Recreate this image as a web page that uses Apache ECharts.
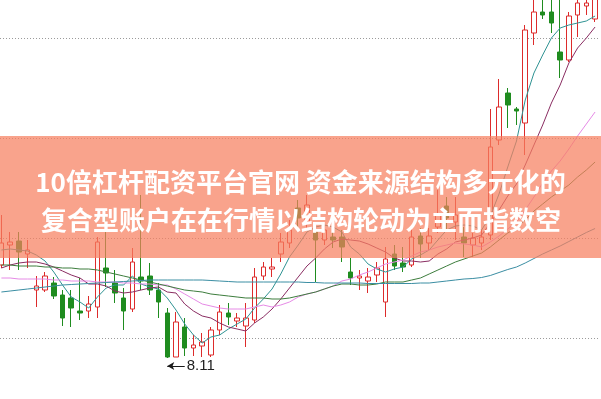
<!DOCTYPE html>
<html><head><meta charset="utf-8">
<script src="https://cdn.jsdelivr.net/npm/echarts@6/dist/echarts.min.js"></script>
<style>html,body{margin:0;padding:0;background:#fff}#c{width:601px;height:399px}</style>
</head><body><div id="c"></div>
<script>
// ---- data ----
const days = ['D01','D02','D03','D04','D05','D06','D07','D08','D09','D10','D11','D12','D13','D14','D15','D16','D17','D18','D19','D20','D21','D22','D23','D24','D25','D26','D27','D28','D29','D30','D31','D32','D33','D34','D35','D36','D37','D38','D39','D40','D41','D42','D43','D44','D45','D46','D47','D48','D49','D50','D51','D52','D53','D54','D55','D56','D57','D58','D59','D60','D61','D62','D63','D64','D65','D66','D67','D68','D69'];
const openP = [9.04,9.24,9.28,9.15,8.79,8.79,8.86,8.74,8.71,8.58,
  8.58,8.62,9.01,8.86,8.71,8.60,8.92,8.93,8.79,8.56,
  8.12,8.42,8.21,8.23,8.14,8.39,8.56,8.48,8.43,8.49,
  8.93,9.00,9.15,9.26,9.61,9.47,9.37,9.29,9.32,9.32,
  8.97,8.91,8.88,8.94,8.67,9.15,9.06,9.04,9.33,9.26,
  9.42,9.63,9.47,9.32,9.24,9.26,9.34,10.29,10.76,10.60,
  10.46,11.36,11.57,11.57,11.17,11.09,11.54,11.63,11.50];
const closeP = [9.26,9.27,9.17,9.19,8.83,8.93,8.73,8.51,8.61,8.56,
  8.65,9.27,8.96,8.76,8.58,9.07,8.88,8.79,8.67,8.12,
  8.47,8.21,8.24,8.27,8.39,8.57,8.52,8.51,8.51,8.92,
  9.02,9.02,9.27,9.39,9.51,9.64,9.29,9.39,9.29,9.22,
  8.91,8.93,8.92,9.01,9.10,9.03,9.02,9.32,9.25,9.33,
  9.54,9.51,9.54,9.26,9.31,9.32,10.22,10.62,10.64,10.58,
  11.39,11.57,11.54,11.46,11.09,11.53,11.66,11.66,11.72];
const lowP = [9.01,8.99,8.99,9.01,8.62,8.77,8.70,8.43,8.42,8.49,
  8.51,8.51,8.82,8.66,8.39,8.57,8.79,8.74,8.51,8.11,
  8.12,8.13,8.13,8.12,8.12,8.34,8.44,8.42,8.22,8.46,
  8.89,8.92,9.07,9.21,9.41,9.41,8.87,9.24,9.21,9.07,
  8.84,8.79,8.76,8.87,8.52,8.99,8.97,9.02,9.11,9.19,
  9.36,9.39,9.29,9.12,9.12,9.19,9.29,10.24,10.41,10.44,
  10.14,11.24,11.50,11.36,10.91,11.07,11.32,11.54,11.47];
const highP = [9.54,9.37,9.37,9.29,8.93,8.97,8.92,8.79,8.79,8.91,
  8.73,9.32,9.54,8.99,8.81,9.21,9.74,9.06,8.86,8.61,
  8.57,8.51,8.34,8.36,8.42,8.64,8.66,8.56,8.66,9.01,
  9.07,9.11,9.36,9.49,9.69,9.74,9.44,9.44,9.39,9.39,
  9.11,8.99,9.01,9.07,9.22,9.24,9.22,9.42,9.41,9.41,
  9.82,9.72,9.72,9.42,9.36,9.39,10.60,10.90,10.81,10.62,
  11.44,11.74,11.74,11.69,11.74,11.57,11.74,11.71,11.78];
const ma5 = [9.19,9.20,9.19,9.18,9.14,9.08,8.97,8.84,8.72,8.67,
  8.61,8.72,8.81,8.84,8.84,8.93,8.85,8.82,8.80,8.71,
  8.59,8.45,8.34,8.26,8.32,8.34,8.40,8.45,8.50,8.61,
  8.70,8.80,8.95,9.12,9.24,9.37,9.42,9.44,9.42,9.37,
  9.22,9.15,9.05,9.00,8.97,9.00,9.02,9.10,9.14,9.19,
  9.29,9.39,9.43,9.44,9.43,9.39,9.53,9.75,10.02,10.28,
  10.69,10.96,11.14,11.31,11.41,11.44,11.46,11.48,11.53];
const ma10 = [9.01,9.04,9.06,9.07,9.07,9.05,9.02,8.98,8.94,8.91,
  8.85,8.85,8.83,8.78,8.76,8.77,8.79,8.81,8.82,8.77,
  8.76,8.65,8.58,8.53,8.51,8.46,8.42,8.40,8.38,8.46,
  8.52,8.60,8.70,8.81,8.92,9.03,9.11,9.20,9.27,9.30,
  9.29,9.28,9.25,9.21,9.17,9.11,9.08,9.08,9.07,9.08,
  9.15,9.20,9.27,9.29,9.31,9.34,9.46,9.59,9.73,9.85,
  10.04,10.24,10.44,10.66,10.84,11.06,11.21,11.31,11.42];
const ma20 = [8.91,8.91,8.90,8.90,8.90,8.90,8.89,8.89,8.88,8.88,
  8.88,8.87,8.87,8.87,8.86,8.86,8.85,8.85,8.84,8.84,
  8.80,8.75,8.70,8.65,8.63,8.61,8.60,8.60,8.60,8.62,
  8.64,8.62,8.64,8.67,8.72,8.75,8.77,8.80,8.83,8.88,
  8.90,8.94,8.97,9.01,9.05,9.07,9.09,9.13,9.17,9.19,
  9.22,9.24,9.26,9.25,9.24,9.22,9.27,9.33,9.40,9.47,
  9.59,9.72,9.86,9.98,10.08,10.20,10.33,10.45,10.57];
const ma30 = [9.04,9.04,9.03,9.03,9.03,9.02,9.02,9.01,9.01,9.00,
  9.00,8.99,8.97,8.95,8.93,8.91,8.89,8.87,8.85,8.83,
  8.81,8.79,8.78,8.77,8.75,8.74,8.73,8.72,8.71,8.71,
  8.71,8.70,8.70,8.71,8.73,8.75,8.77,8.80,8.83,8.85,
  8.85,8.84,8.84,8.85,8.87,8.87,8.87,8.89,8.91,8.95,
  8.99,9.03,9.07,9.10,9.13,9.16,9.22,9.29,9.36,9.41,
  9.49,9.58,9.65,9.72,9.78,9.84,9.92,9.99,10.07];
const ma60 = [8.77,8.78,8.79,8.80,8.81,8.82,8.83,8.84,8.845,8.85,
  8.855,8.86,8.865,8.87,8.875,8.88,8.885,8.89,8.89,8.89,
  8.89,8.89,8.89,8.89,8.885,8.88,8.875,8.87,8.87,8.87,
  8.87,8.87,8.87,8.87,8.87,8.865,8.865,8.86,8.86,8.86,
  8.86,8.86,8.855,8.855,8.855,8.855,8.855,8.855,8.86,8.86,
  8.87,8.88,8.89,8.90,8.905,8.915,8.935,8.965,8.995,9.02,
  9.06,9.105,9.15,9.19,9.23,9.275,9.32,9.365,9.405];
const lowLabel = '8.11';
const lowIndex = 19;
const titleLines = ['10倍杠杆配资平台官网 资金来源结构多元化的', '复合型账户在在行情以结构轮动为主而指数空'];

// ---- chart ----
const candles = openP.map((o, i) => [o, closeP[i], lowP[i], highP[i]]);
const RED = '#dd2b2b', GREEN = '#1f8c1f';
const arrowPrice = 8.03;
const chart = echarts.init(document.getElementById('c'), null, {renderer: 'canvas'});
function maSeries(name, data, color) {
  return {name, type: 'line', data, showSymbol: false, symbol: 'none', silent: true,
    lineStyle: {color, width: 1}, z: 3, animation: false};
}
chart.setOption({
  animation: false,
  backgroundColor: '#ffffff',
  grid: {left: -2.97, top: 0, width: 602.4, height: 438, outerBoundsMode: 'none', containLabel: false},
  xAxis: {type: 'category', data: days, boundaryGap: true,
    axisLine: {show: false}, axisTick: {show: false}, axisLabel: {show: false}, splitLine: {show: false}},
  yAxis: {type: 'value', min: 7.31, max: 11.69, interval: 1,
    axisLine: {show: false}, axisTick: {show: false}, axisLabel: {show: false},
    splitLine: {show: true, showMinLine: false, showMaxLine: false,
      lineStyle: {color: '#9a9a9a', width: 1, type: [1, 2]}}},
  series: [
    {type: 'candlestick', data: candles, barWidth: 5, silent: true, z: 2,
      itemStyle: {color: '#ffffff', color0: GREEN, borderColor: RED, borderColor0: GREEN, borderWidth: 1},
      markLine: {silent: true, animation: false, symbol: ['arrow', 'none'], symbolSize: [6, 7],
        lineStyle: {color: '#1a1a1a', width: 1, type: 'solid'},
        label: {show: true, position: 'end', formatter: lowLabel, color: '#222', fontSize: 15,
          fontFamily: 'Liberation Sans, Arial, sans-serif', distance: 2},
        data: [[{coord: [days[lowIndex], arrowPrice]}, {coord: [days[lowIndex + 2], arrowPrice]}]]}},
    maSeries('MA5', ma5, '#2f9393'),
    maSeries('MA10', ma10, '#8a2d62'),
    maSeries('MA20', ma20, '#e68ae6'),
    maSeries('MA30', ma30, '#3d7d3d'),
    maSeries('MA60', ma60, '#3b8ea3')
  ],
  graphic: [
    {type: 'rect', z: 100, silent: true, shape: {x: 0, y: 136, width: 601, height: 122},
      style: {fill: 'rgba(246,128,96,0.72)'}},
    {type: 'text', z: 101, silent: true, x: 300.5, y: 182,
      style: {text: titleLines[0], fill: '#ffffff', font: 'bold 26px "Noto Sans CJK SC", sans-serif',
        align: 'center', verticalAlign: 'middle'}},
    {type: 'text', z: 101, silent: true, x: 301, y: 220,
      style: {text: titleLines[1], fill: '#ffffff', font: 'bold 26px "Noto Sans CJK SC", sans-serif',
        align: 'center', verticalAlign: 'middle'}}
  ]
});
</script>
</body></html>
